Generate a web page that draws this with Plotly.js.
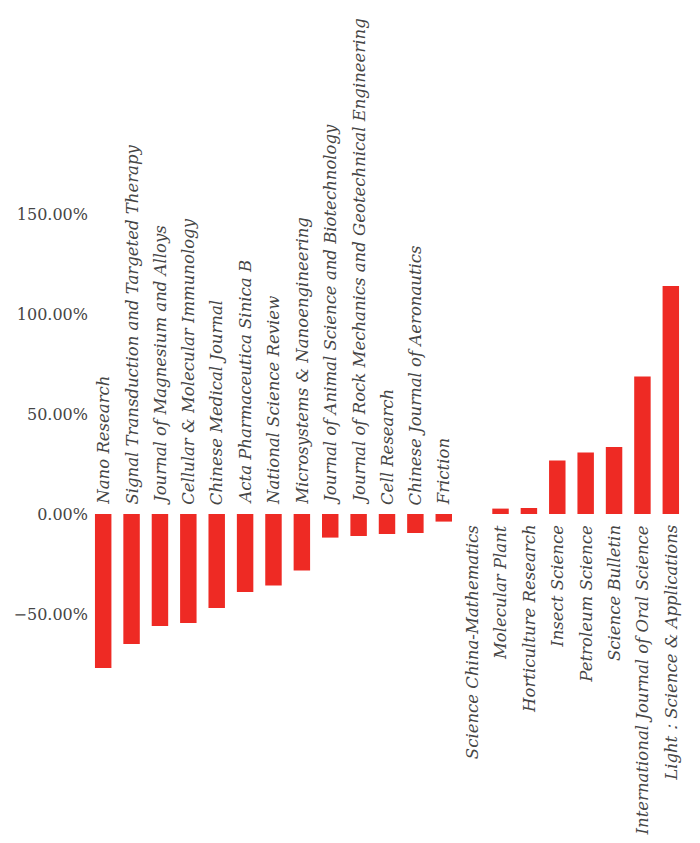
<!DOCTYPE html>
<html>
<head>
<meta charset="utf-8">
<script src="https://cdn.plot.ly/plotly-3.0.1.min.js"></script>
<style>html,body{margin:0;padding:0;background:#fff;}#chart{width:700px;height:843px;}</style>
</head>
<body>
<div id="chart"></div>
<script>
var journals = [
  "Nano Research",
  "Signal Transduction and Targeted Therapy",
  "Journal of Magnesium and Alloys",
  "Cellular & Molecular Immunology",
  "Chinese Medical Journal",
  "Acta Pharmaceutica Sinica B",
  "National Science Review",
  "Microsystems & Nanoengineering",
  "Journal of Animal Science and Biotechnology",
  "Journal of Rock Mechanics and Geotechnical Engineering",
  "Cell Research",
  "Chinese Journal of Aeronautics",
  "Friction",
  "Science China-Mathematics",
  "Molecular Plant",
  "Horticulture Research",
  "Insect Science",
  "Petroleum Science",
  "Science Bulletin",
  "International Journal of Oral Science",
  "Light\uFF1AScience & Applications"
];
var changePct = [-77, -65, -56, -54.5, -47, -39, -35.7, -28.3, -11.8, -11, -10, -9.5, -3.8,
                 0, 2.7, 3, 26.7, 30.7, 33.5, 68.7, 114];
var tickValues = [-50, 0, 50, 100, 150];
var tickLabels = ["\u221250.00%", "0.00%", "50.00%", "100.00%", "150.00%"];

var fontFam = "DejaVu Serif, serif";
var textColor = "#454545";

var trace = {
  type: "bar",
  x: journals,
  y: changePct,
  marker: {color: "#ee2a24", line: {width: 0}},
  hoverinfo: "none"
};

var annotations = journals.map(function (name, i) {
  var neg = changePct[i] < 0;
  return {
    x: name, y: 0, xref: "x", yref: "y",
    text: "<i>" + name.replace(/&/g, "&amp;") + "</i>",
    textangle: -90,
    showarrow: false,
    xanchor: "center",
    yanchor: neg ? "bottom" : "top",
    yshift: neg ? 7 : -9,
    font: {family: fontFam, size: 16.5, color: textColor}
  };
});

var layout = {
  width: 700, height: 843,
  margin: {l: 89, r: 15, t: 0, b: 0, pad: 0},
  paper_bgcolor: "#fff", plot_bgcolor: "#fff",
  bargap: 0.42,
  showlegend: false,
  xaxis: {visible: false, type: "category"},
  yaxis: {
    range: [-164.5, 257],
    tickvals: tickValues, ticktext: tickLabels,
    showgrid: false, zeroline: false, showline: false, ticks: "",
    ticklabelstandoff: 0,
    tickfont: {family: fontFam, size: 16, color: textColor}
  },
  annotations: annotations
};

Plotly.newPlot("chart", [trace], layout, {displayModeBar: false, staticPlot: true});
</script>
</body>
</html>
